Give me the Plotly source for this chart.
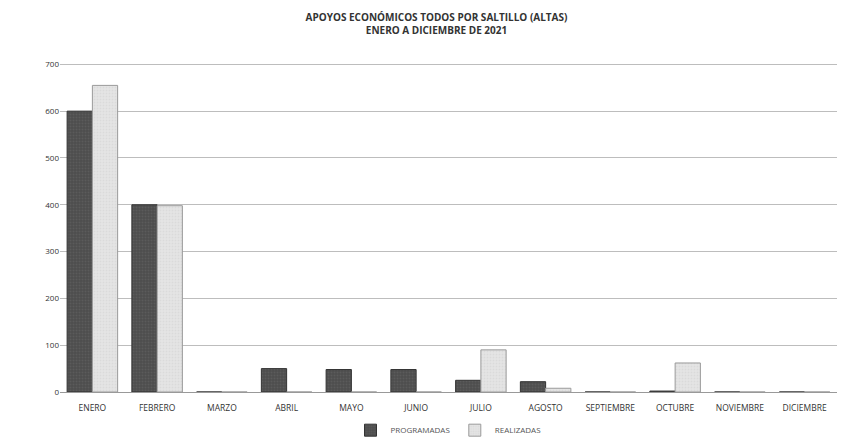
import plotly.graph_objects as go

meses = ["ENERO", "FEBRERO", "MARZO", "ABRIL", "MAYO", "JUNIO", "JULIO",
         "AGOSTO", "SEPTIEMBRE", "OCTUBRE", "NOVIEMBRE", "DICIEMBRE"]
programadas = [600, 400, 0, 50, 48, 48, 25, 22, 0, 2, 0, 0]
realizadas = [655, 398, 0, 0, 0, 0, 90, 8, 0, 62, 0, 0]
y_ticks = [0, 100, 200, 300, 400, 500, 600, 700]

fig = go.Figure()
fig.add_trace(go.Bar(
    x=meses, y=programadas, name="PROGRAMADAS",
    marker=dict(color="#4d4d4d", line=dict(color="#333333", width=1),
                pattern=dict(shape=".", fgcolor="#6a6a6a", size=3, solidity=0.3)),
))
fig.add_trace(go.Bar(
    x=meses, y=realizadas, name="REALIZADAS",
    marker=dict(color="#e4e4e4", line=dict(color="#9a9a9a", width=1),
                pattern=dict(shape=".", fgcolor="#cfcfcf", size=3, solidity=0.3)),
))

fig.update_layout(
    width=857, height=443,
    paper_bgcolor="white", plot_bgcolor="white",
    margin=dict(l=52, r=28, t=54, b=59),
    barmode="group", bargap=0.22, bargroupgap=0.0,
    font=dict(family="Open Sans, Liberation Sans, sans-serif", size=9, color="#333333"),
    title=dict(
        text="<b>APOYOS ECONÓMICOS TODOS POR SALTILLO (ALTAS)</b><br><b>ENERO A DICIEMBRE DE 2021</b>",
        x=0.5, xanchor="center", y=0.97, yanchor="top",
        font=dict(size=10, color="#333333"),
    ),
    showlegend=True,
    legend=dict(orientation="h", x=0.5, xanchor="center", y=0.047, yref="container",
                yanchor="middle", font=dict(size=8, color="#555555"), itemwidth=30),
    xaxis=dict(showgrid=False, showline=True, linecolor="#999999", automargin=False,
               tickfont=dict(size=8.5, color="#333333"), ticks="", ticklabelstandoff=8),
    yaxis=dict(range=[0, 705], tickvals=y_ticks, showgrid=True, gridcolor="#bdbdbd",
               gridwidth=1, zeroline=False, showline=False, automargin=False,
               tickfont=dict(size=8, color="#333333")),
)

fig.write_html("out.html")
